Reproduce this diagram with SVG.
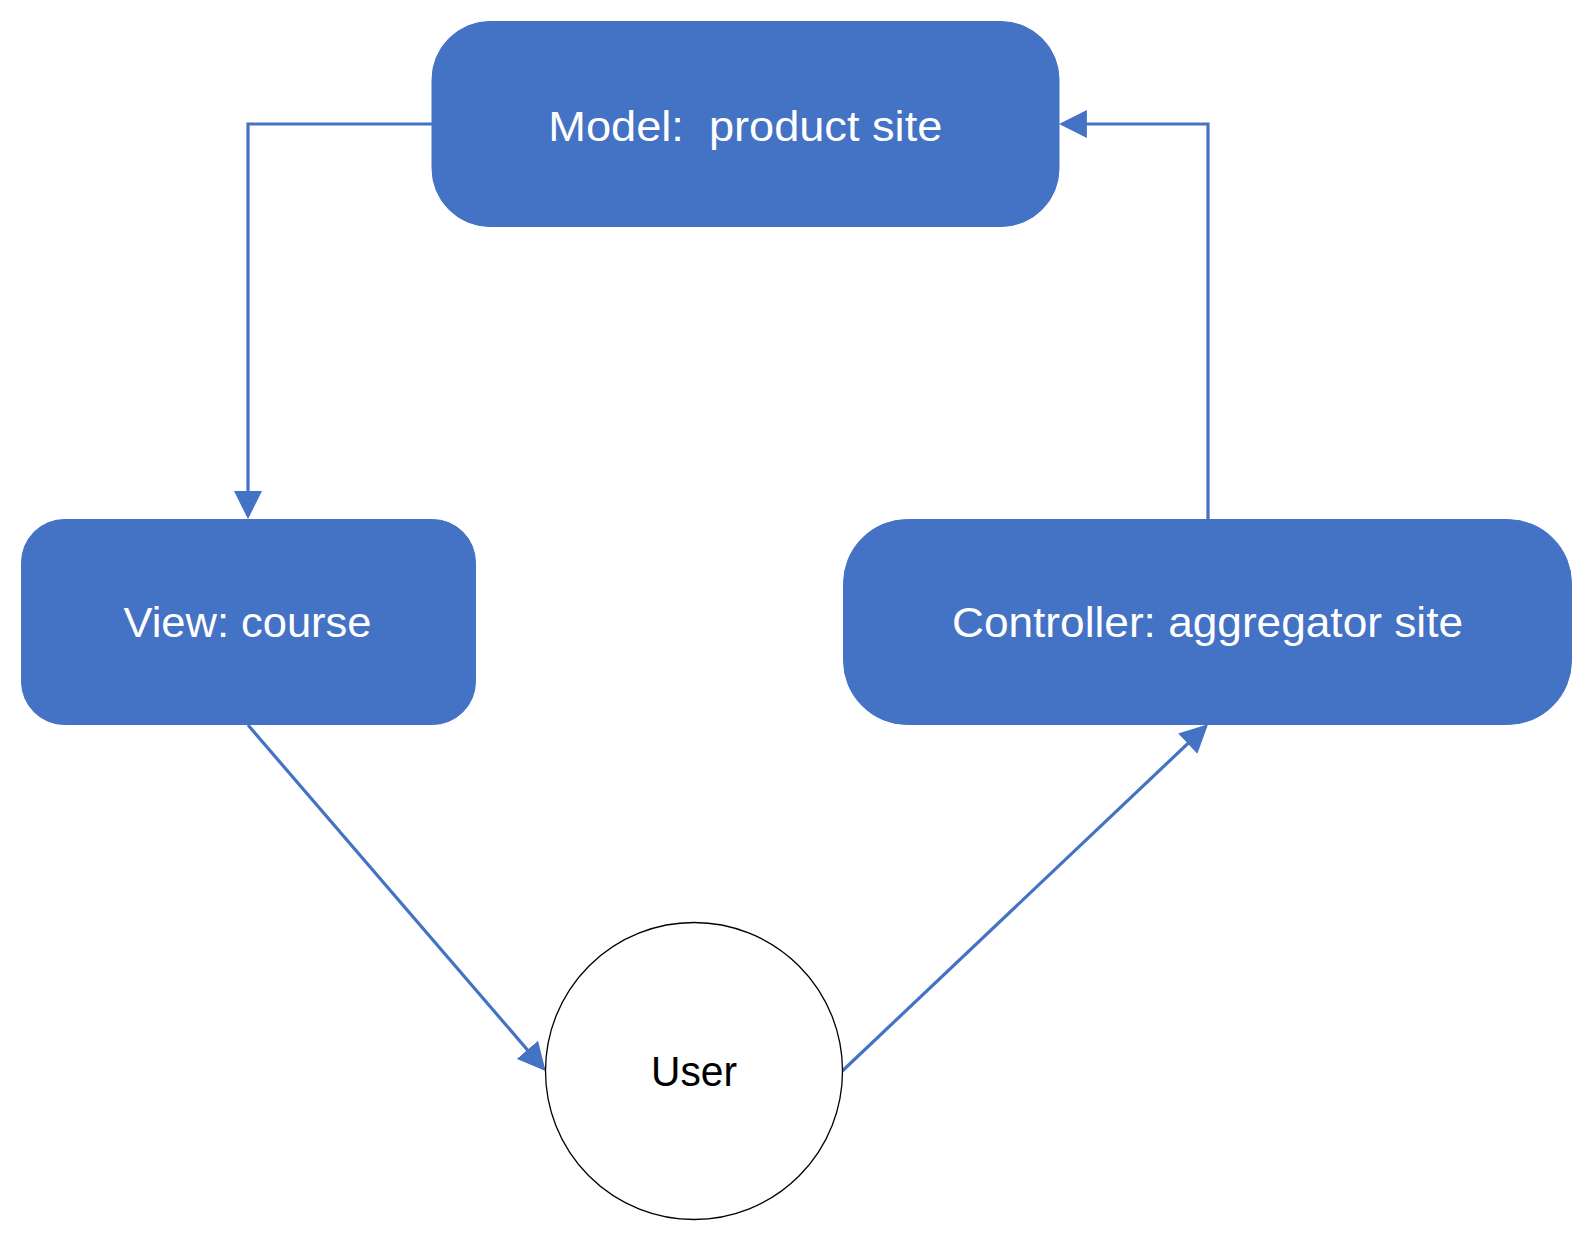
<svg xmlns="http://www.w3.org/2000/svg" width="1593" height="1242" viewBox="0 0 1593 1242">
  <style>
    .box { fill: #4472C4; stroke: #4472C4; stroke-width: 1; }
    .lbl { font-family: "Liberation Sans", Arial, sans-serif; font-size: 42px; fill: #FFFFFF; text-anchor: middle; white-space: pre; }
    .lbl-dark { fill: #000000; }
    .conn { fill: none; stroke: #4472C4; stroke-width: 3.2; }
  </style>
  <defs>
    <marker id="arrow" markerUnits="userSpaceOnUse" markerWidth="28" markerHeight="28" viewBox="0 0 27 27" refX="24" refY="13.5" orient="auto">
      <path d="M0,0 L27,13.5 L0,27 Z" fill="#4472C4"/>
    </marker>
  </defs>
  <rect width="1593" height="1242" fill="#FFFFFF"/>

  <g id="connectors">
    <path id="model-to-view" class="conn" d="M432,124 L248,124 L248,516" marker-end="url(#arrow)"/>
    <path id="controller-to-model" class="conn" d="M1208,519 L1208,124 L1062,124" marker-end="url(#arrow)"/>
    <path id="view-to-user" class="conn" d="M248,725 L543.6,1068.7" marker-end="url(#arrow)"/>
    <path id="user-to-controller" class="conn" d="M842.3,1071 L1205.8,726.5" marker-end="url(#arrow)"/>
  </g>

  <g id="model">
    <rect class="box" x="432" y="21.5" width="627" height="205" rx="58" ry="58"/>
    <text class="lbl" x="745.3" y="141" textLength="394" lengthAdjust="spacingAndGlyphs" xml:space="preserve">Model:  product site</text>
  </g>

  <g id="view">
    <rect class="box" x="21.5" y="519.5" width="454" height="205" rx="43" ry="43"/>
    <text class="lbl" x="247.5" y="637" textLength="248" lengthAdjust="spacingAndGlyphs">View: course</text>
  </g>

  <g id="controller">
    <rect class="box" x="843.5" y="519.5" width="728" height="205" rx="64" ry="64"/>
    <text class="lbl" x="1207.5" y="637" textLength="511" lengthAdjust="spacingAndGlyphs">Controller: aggregator site</text>
  </g>

  <g id="user">
    <circle cx="694" cy="1071" r="148.5" fill="#FFFFFF" stroke="#000000" stroke-width="1.3"/>
    <text class="lbl lbl-dark" x="694" y="1086" textLength="86" lengthAdjust="spacingAndGlyphs">User</text>
  </g>
</svg>
